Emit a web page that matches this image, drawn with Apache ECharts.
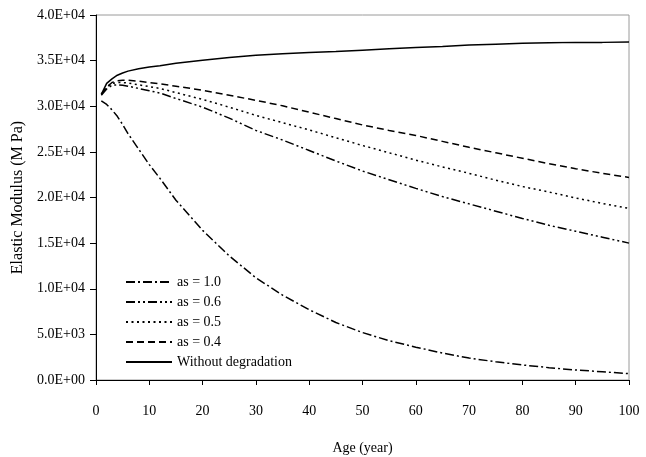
<!DOCTYPE html>
<html>
<head>
<meta charset="utf-8">
<script src="https://cdn.jsdelivr.net/npm/echarts@6/dist/echarts.min.js"></script>
<style>
html,body{margin:0;padding:0;background:#fff;}
#c1{width:646px;height:457px;}
</style>
</head>
<body>
<div id="c1"></div>
<script>
// age (year)
var ages = [1, 2, 3, 4, 5, 6, 8, 10, 12, 15, 20, 25, 30, 35, 40, 45, 50, 55, 60, 65, 70, 75, 80, 85, 90, 95, 100];
var as10 = [30600, 30200, 29600, 28900, 28000, 27000, 25300, 23600, 22100, 19700, 16400, 13600, 11200, 9300, 7700, 6300, 5200, 4300, 3600, 2950, 2400, 2000, 1650, 1350, 1100, 900, 700];
var as06 = [31200, 31900, 32300, 32350, 32300, 32200, 31950, 31700, 31450, 30850, 29900, 28700, 27350, 26300, 25150, 24000, 22900, 21950, 21000, 20100, 19300, 18500, 17700, 16950, 16300, 15650, 15000];
var as05 = [31300, 32100, 32500, 32600, 32600, 32550, 32350, 32150, 31950, 31500, 30750, 29900, 29000, 28200, 27400, 26550, 25700, 24900, 24100, 23350, 22650, 21900, 21200, 20600, 19950, 19350, 18800];
var as04 = [31300, 32100, 32600, 32800, 32850, 32850, 32750, 32600, 32450, 32200, 31750, 31200, 30650, 30050, 29350, 28650, 27950, 27350, 26800, 26150, 25500, 24900, 24300, 23700, 23150, 22650, 22200];
var noDeg = [31300, 32500, 33000, 33400, 33650, 33850, 34100, 34300, 34450, 34700, 35050, 35350, 35600, 35750, 35900, 36000, 36150, 36300, 36450, 36550, 36700, 36800, 36900, 36950, 37000, 37000, 37050];
var names = ['as = 1.0', 'as = 0.6', 'as = 0.5', 'as = 0.4', 'Without degradation'];

function pairs(arr) {
	var out = [];
	for (var i = 0; i < ages.length; i++) {
		out.push([ages[i], arr[i]]);
	}
	return out;
}
function sciLabel(v) {
	var s = v.toExponential(1).split('e');
	var e = parseInt(s[1], 10);
	var sign = e < 0 ? '-' : '+';
	var d = Math.abs(e);
	return s[0] + 'E' + sign + (d < 10 ? '0' + d : d);
}
function mkSeries(name, arr, dash) {
	return {
		name: name,
		type: 'line',
		data: pairs(arr),
		symbol: 'none',
		smooth: false,
		itemStyle: { color: '#000' },
		lineStyle: { color: '#000', width: 1.5, type: dash }
	};
}

var font = 'Liberation Serif, Times New Roman, serif';
var myChart = echarts.init(document.getElementById('c1'));
var option = {
	animation: false,
	textStyle: { fontFamily: font, color: '#000' },
	grid: {
		left: 96, right: 17, top: 15, bottom: 77,
		outerBoundsMode: 'none',
		show: true, borderColor: '#9a9a9a', borderWidth: 1
	},
	legend: {
		orient: 'vertical',
		left: 120, top: 270,
		itemWidth: 46, itemHeight: 12, itemGap: 6,
		itemStyle: { opacity: 0 },
		textStyle: { fontFamily: font, fontSize: 14, color: '#000' },
		data: names
	},
	xAxis: {
		type: 'value',
		min: 0, max: 100, interval: 10,
		name: 'Age (year)',
		nameLocation: 'middle',
		nameGap: 61,
		nameTextStyle: { fontFamily: font, fontSize: 14, color: '#000' },
		axisLine: { lineStyle: { color: '#000', width: 1 } },
		axisTick: { inside: false, length: 5, lineStyle: { color: '#000' } },
		axisLabel: { margin: 24, fontFamily: font, fontSize: 14, color: '#000' },
		splitLine: { show: false }
	},
	yAxis: {
		type: 'value',
		min: 0, max: 40000, interval: 5000,
		name: 'Elastic Modulus (M Pa)',
		nameLocation: 'middle',
		nameGap: 64,
		nameTextStyle: { fontFamily: font, fontSize: 16, color: '#000' },
		axisLine: { show: true, lineStyle: { color: '#000', width: 1 } },
		axisTick: { show: true, inside: false, length: 6, lineStyle: { color: '#000' } },
		axisLabel: { margin: 11, fontFamily: font, fontSize: 14, color: '#000', formatter: sciLabel },
		splitLine: { show: false }
	},
	series: [
		mkSeries(names[0], as10, [9, 3, 2, 3]),
		mkSeries(names[1], as06, [9, 3, 2, 3, 2, 3]),
		mkSeries(names[2], as05, [2, 3.5]),
		mkSeries(names[3], as04, [7, 4]),
		mkSeries(names[4], noDeg, 'solid')
	]
};
myChart.setOption(option);
</script>
</body>
</html>
